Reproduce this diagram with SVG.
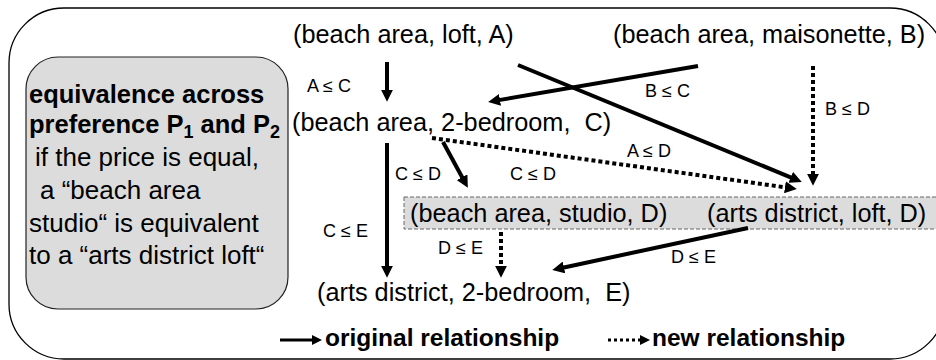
<svg xmlns="http://www.w3.org/2000/svg" width="936" height="360" viewBox="0 0 936 360">
<defs>
<marker id="ah" viewBox="0 0 10 10" refX="1" refY="5" markerWidth="12" markerHeight="12" markerUnits="userSpaceOnUse" orient="auto"><path d="M0,0 L10,5 L0,10 z" fill="#000"/></marker>
<marker id="ahs" viewBox="0 0 10 10" refX="1" refY="5" markerWidth="10" markerHeight="10" markerUnits="userSpaceOnUse" orient="auto"><path d="M0,0 L10,5 L0,10 z" fill="#000"/></marker>
<style>
text{font-family:"Liberation Sans",Arial,sans-serif;fill:#000}
.node{font-size:25.3px}
.lbl{font-size:18px}
.bold{font-weight:bold;font-size:25.5px}
.leg{font-weight:bold;font-size:24.5px}
.reg{font-size:26px}
.solid{stroke:#000;stroke-width:4;fill:none;marker-end:url(#ah)}
.dot{stroke:#000;stroke-width:4;fill:none;stroke-dasharray:4 3;marker-end:url(#ah)}
</style>
</defs>
<rect width="936" height="360" fill="#fff"/>
<rect id="frame" x="9" y="8" width="936" height="351" rx="55" ry="55" fill="none" stroke="#000" stroke-width="1.3"/>
<g id="note">
<rect x="26" y="57" width="262" height="252" rx="32" ry="32" fill="#dcdcdc" stroke="#222" stroke-width="1.2"/>
<text class="bold" x="29" y="103">equivalence across</text>
<text class="bold" x="29" y="133">preference P<tspan font-size="18" dy="5">1</tspan><tspan dy="-5"> and P</tspan><tspan font-size="18" dy="5">2</tspan></text>
<text class="reg" x="35" y="166">if the price is equal,</text>
<text class="reg" x="40" y="199">a “beach area</text>
<text class="reg" x="29" y="232">studio“ is equivalent</text>
<text class="reg" x="29" y="264">to a “arts district loft“</text>
</g>
<rect id="eqband" x="404" y="197" width="534" height="32" fill="#dcdcdc" stroke="#666" stroke-width="1" stroke-dasharray="4 2"/>
<g id="nA"><text class="node" x="293" y="43">(beach area, loft, A)</text></g>
<g id="nB"><text class="node" x="613" y="43">(beach area, maisonette, B)</text></g>
<g id="nC"><text class="node" x="292" y="131" xml:space="preserve">(beach area, 2-bedroom,  C)</text></g>
<g id="nD1"><text class="node" x="410" y="222">(beach area, studio, D)</text></g>
<g id="nD2"><text class="node" x="707" y="222">(arts district, loft, D)</text></g>
<g id="nE"><text class="node" x="317" y="301" xml:space="preserve">(arts district, 2-bedroom,  E)</text></g>
<g id="connectors">
<line class="solid" x1="387" y1="62" x2="387" y2="91"/>
<line class="solid" x1="698" y1="66" x2="498.8" y2="100.1"/>
<line class="solid" x1="518" y1="65" x2="791.8" y2="177.8"/>
<line class="dot" x1="813" y1="66" x2="813" y2="175"/>
<line class="dot" x1="432" y1="138" x2="786.1" y2="187.4"/>
<line class="solid" x1="443" y1="142" x2="462.7" y2="178.3"/>
<line class="solid" x1="387" y1="143" x2="387" y2="267"/>
<line class="dot" x1="501" y1="232" x2="501" y2="267"/>
<line class="solid" x1="748" y1="228" x2="562.8" y2="267.7"/>
<text class="lbl" x="307" y="92">A ≤ C</text>
<text class="lbl" x="645" y="97">B ≤ C</text>
<text class="lbl" x="825" y="115">B ≤ D</text>
<text class="lbl" x="627" y="157">A ≤ D</text>
<text class="lbl" x="395" y="180">C ≤ D</text>
<text class="lbl" x="510" y="180">C ≤ D</text>
<text class="lbl" x="323" y="237">C ≤ E</text>
<text class="lbl" x="438" y="254">D ≤ E</text>
<text class="lbl" x="671" y="263">D ≤ E</text>
</g>
<g id="legend">
<line x1="280" y1="340" x2="313" y2="340" stroke="#000" stroke-width="3" marker-end="url(#ahs)"/>
<text class="leg" x="325" y="346">original relationship</text>
<line x1="608" y1="340" x2="641" y2="340" stroke="#000" stroke-width="3" stroke-dasharray="3 3" marker-end="url(#ahs)"/>
<text class="leg" x="652" y="346">new relationship</text>
</g>
</svg>
